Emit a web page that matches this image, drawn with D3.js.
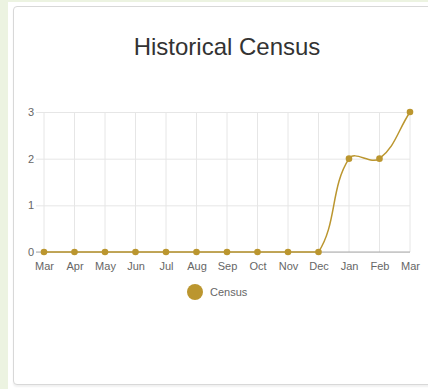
<!DOCTYPE html>
<meta charset="utf-8" />
<script src="https://d3js.org/d3.v7.min.js"></script>
<style>
  html, body { margin: 0; padding: 0; background: #ecf3e1; overflow: hidden; }
  #page { position: absolute; left: 8px; top: 2px; width: 440px; height: 387px; background: #fff; }
  #card { position: absolute; left: 5px; top: 4px; width: 440px; height: 377px;
          border: 1px solid #d8d8d8; border-radius: 4px; background: #fff;
          box-shadow: 0 2px 2px rgba(0,0,0,0.06); }
  svg { position: absolute; left: 0; top: 0; }
</style>
<div id="page"><div id="card"></div></div>
<svg width="428" height="389"></svg>

<script>
  // chart data
  var months = ["Mar", "Apr", "May", "Jun", "Jul", "Aug", "Sep", "Oct", "Nov", "Dec", "Jan", "Feb", "Mar"];
  var census = [0, 0, 0, 0, 0, 0, 0, 0, 0, 0, 2, 2, 3];
  var yTicks = [0, 1, 2, 3];

  var color = "#bb962f";
  var svg = d3.select("svg");

  // plot area edges
  var areaL = 44, areaR = 410, areaT = 112, areaB = 252;

  var x = d3.scalePoint()
    .domain(d3.range(months.length))
    .range([areaL, areaR]);
  var y = d3.scaleLinear()
    .domain([0, 3])
    .range([areaB, areaT]);

  // title
  svg.append("text")
    .attr("x", 227)
    .attr("y", 55)
    .attr("text-anchor", "middle")
    .style("font-family", "Liberation Sans, Arial, sans-serif")
    .style("font-size", "24px")
    .style("fill", "#333")
    .text("Historical Census");

  // vertical grid
  svg.append("g")
    .selectAll("line")
    .data(d3.range(months.length))
    .enter()
    .append("line")
    .attr("x1", function (d) { return x(d); })
    .attr("x2", function (d) { return x(d); })
    .attr("y1", areaT)
    .attr("y2", areaB)
    .style("stroke", "#e6e6e6")
    .style("stroke-width", 1);

  // horizontal grid + y ticks
  var yAxis = d3.axisLeft(y)
    .tickValues(yTicks)
    .tickSize(-(areaR - areaL))
    .tickPadding(10)
    .tickFormat(d3.format("d"));
  var gy = svg.append("g")
    .attr("transform", "translate(" + areaL + ",0)")
    .call(yAxis);
  gy.select(".domain").remove();
  gy.selectAll(".tick line")
    .style("stroke", "#e6e6e6")
    .attr("x1", -8);
  gy.selectAll(".tick text")
    .attr("x", -10)
    .style("font-family", "Liberation Sans, Arial, sans-serif")
    .style("font-size", "11px")
    .style("fill", "#666");

  // zero line
  svg.append("line")
    .attr("x1", areaL - 8).attr("x2", areaR)
    .attr("y1", y(0)).attr("y2", y(0))
    .style("stroke", "#aaa");

  // x labels
  var xAxis = d3.axisBottom(x)
    .tickSize(0)
    .tickPadding(10)
    .tickFormat(function (i) { return months[i]; });
  var gx = svg.append("g")
    .attr("transform", "translate(0," + areaB + ")")
    .call(xAxis);
  gx.select(".domain").remove();
  gx.selectAll(".tick text")
    .style("font-family", "Liberation Sans, Arial, sans-serif")
    .style("font-size", "11px")
    .style("fill", "#666");

  // spline like the original (tension 0.4, control points kept in chart area)
  var pts = census.map(function (v, i) { return [x(i), y(v)]; });
  var tension = 0.4;
  var ctrl = pts.map(function (p, i) {
    var prev = pts[i - 1] || p, next = pts[i + 1] || p;
    var d01 = Math.hypot(p[0] - prev[0], p[1] - prev[1]);
    var d12 = Math.hypot(next[0] - p[0], next[1] - p[1]);
    var s01 = d01 / (d01 + d12 || 1), s12 = d12 / (d01 + d12 || 1);
    var fa = tension * s01, fb = tension * s12;
    var cp = [p[0] - fa * (next[0] - prev[0]), p[1] - fa * (next[1] - prev[1])];
    var cn = [p[0] + fb * (next[0] - prev[0]), p[1] + fb * (next[1] - prev[1])];
    function cap(c) {
      return [Math.max(areaL, Math.min(areaR, c[0])), Math.max(areaT, Math.min(areaB, c[1]))];
    }
    return { prev: cap(cp), next: cap(cn) };
  });
  var path = d3.path();
  path.moveTo(pts[0][0], pts[0][1]);
  for (var i = 1; i < pts.length; i++) {
    path.bezierCurveTo(ctrl[i - 1].next[0], ctrl[i - 1].next[1],
                       ctrl[i].prev[0], ctrl[i].prev[1],
                       pts[i][0], pts[i][1]);
  }
  svg.append("path")
    .attr("d", path.toString())
    .style("fill", "none")
    .style("stroke", color)
    .style("stroke-width", 1.5);

  // points
  svg.append("g")
    .selectAll("circle")
    .data(census)
    .enter()
    .append("circle")
    .attr("cx", function (d, i) { return x(i); })
    .attr("cy", function (d) { return y(d); })
    .attr("r", 3.3)
    .style("fill", color);

  // legend
  svg.append("circle").attr("cx", 195).attr("cy", 292).attr("r", 8).style("fill", color);
  svg.append("text").attr("x", 210).attr("y", 292).text("Census")
    .attr("dominant-baseline", "central")
    .style("font-family", "Liberation Sans, Arial, sans-serif")
    .style("font-size", "11px")
    .style("fill", "#666");
</script>
